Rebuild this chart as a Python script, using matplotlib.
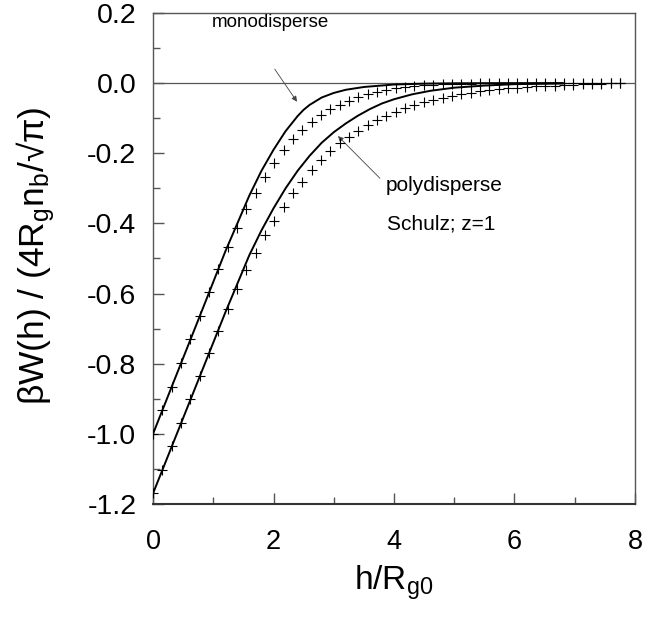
import matplotlib
matplotlib.use("Agg")
import matplotlib.pyplot as plt
from matplotlib.ticker import MultipleLocator

plt.rcParams['font.family'] = ['Liberation Sans', 'DejaVu Sans']
plt.rcParams['mathtext.fontset'] = 'custom'
plt.rcParams['mathtext.rm'] = 'Liberation Sans'
plt.rcParams['mathtext.default'] = 'regular'

# h positions of the "+" points (same for both sets)
h_pts = [0, 0.155, 0.31, 0.465, 0.62, 0.775, 0.93, 1.085, 1.24, 1.395,
         1.55, 1.705, 1.86, 2.015, 2.17, 2.325, 2.48, 2.635, 2.79, 2.945,
         3.1, 3.255, 3.41, 3.565, 3.72, 3.875, 4.03, 4.185, 4.34, 4.495,
         4.65, 4.805, 4.96, 5.115, 5.27, 5.425, 5.58, 5.735, 5.89, 6.045,
         6.2, 6.355, 6.51, 6.665, 6.82, 6.975, 7.13, 7.285, 7.44, 7.595, 7.75]

mono_pts = [-1.0, -0.933, -0.866, -0.798, -0.731, -0.664, -0.597, -0.531, -0.468, -0.412,
            -0.359, -0.312, -0.268, -0.228, -0.192, -0.160, -0.133, -0.110, -0.090, -0.075,
            -0.062, -0.050, -0.040, -0.031, -0.025, -0.020, -0.015, -0.012, -0.009, -0.0066,
            -0.0048, -0.0035, -0.0025, -0.0018, -0.0012, -0.0008, -0.0005, -0.0003, -0.0002, -0.0001,
            0, 0, 0, 0, 0, 0, 0, 0, 0, 0, 0]

poly_pts = [-1.169, -1.103, -1.035, -0.968, -0.902, -0.835, -0.770, -0.707, -0.644, -0.586,
            -0.533, -0.484, -0.433, -0.392, -0.353, -0.314, -0.281, -0.248, -0.219, -0.193,
            -0.170, -0.153, -0.136, -0.120, -0.105, -0.093, -0.081, -0.072, -0.062, -0.054,
            -0.047, -0.041, -0.036, -0.031, -0.027, -0.023, -0.020, -0.017, -0.015, -0.013,
            -0.011, -0.009, -0.008, -0.007, -0.005, -0.004, -0.003, -0.002, -0.002, -0.001, -0.001]

# solid curves
h_mono = [0, 0.4, 0.8, 1.2, 1.4, 1.6, 1.8, 2.0, 2.2, 2.4, 2.5, 2.6, 2.8, 3.0, 3.2, 3.5,
          4.0, 4.5, 5.0, 5.5, 6.0, 6.8]
mono = [-1.0, -0.827, -0.654, -0.48, -0.40, -0.32, -0.25, -0.19, -0.137, -0.094, -0.076,
        -0.062, -0.041, -0.028, -0.019, -0.011, -0.004, -0.0015, -0.0005, -0.0002, 0, 0]

h_poly = [0, 0.4, 0.8, 1.2, 1.6, 1.8, 2.0, 2.2, 2.4, 2.6, 2.8, 3.0, 3.2, 3.4, 3.6, 3.8,
          4.0, 4.3, 4.6, 5.0, 5.5, 6.0, 6.8]
poly = [-1.17, -0.998, -0.826, -0.654, -0.49, -0.42, -0.357, -0.30, -0.25, -0.207, -0.170,
        -0.140, -0.115, -0.093, -0.074, -0.058, -0.046, -0.032, -0.022, -0.013, -0.007,
        -0.003, -0.001]

fig = plt.figure(figsize=(6.57, 6.18), dpi=100)
ax = fig.add_axes([0.2329, 0.1845, 0.7336, 0.7945])

ax.axhline(0, color='#555555', lw=0.9, zorder=1)
ax.plot(h_mono, mono, color='black', lw=1.4, zorder=3)
ax.plot(h_poly, poly, color='black', lw=1.4, zorder=3)
ax.plot(h_pts, mono_pts, '+', color='black', ms=7, mew=0.8, zorder=4)
ax.plot(h_pts, poly_pts, '+', color='black', ms=7, mew=0.8, zorder=4)

ax.set_xlim(0, 8)
ax.set_ylim(-1.2, 0.2)
ax.xaxis.set_major_locator(MultipleLocator(2))
ax.xaxis.set_minor_locator(MultipleLocator(1))
ax.yaxis.set_major_locator(MultipleLocator(0.2))
ax.yaxis.set_minor_locator(MultipleLocator(0.1))
ax.yaxis.set_major_formatter(plt.FuncFormatter(lambda v, p: f"{v:.1f}"))

ax.tick_params(which='both', direction='in', top=False, right=False,
               color='#555555', width=1)
ax.tick_params(which='major', length=8)
ax.tick_params(which='minor', length=5)
ax.tick_params(axis='x', labelsize=19.5, pad=18)
ax.tick_params(axis='y', labelsize=20.5, pad=12)

for s in ax.spines.values():
    s.set_color('#555555')
    s.set_linewidth(1)
ax.spines['bottom'].set_color('#333333')
ax.spines['bottom'].set_linewidth(1.5)

ax.set_xlabel(r'h/R$_{g0}$', fontsize=24, labelpad=6)
ax.set_ylabel(r'βW(h) / (4R$_g$n$_b$/√π)', fontsize=25.5)
ax.yaxis.set_label_coords(-0.2, 0.505)

ax.text(0.98, 0.172, 'monodisperse', fontsize=13.5, ha='left', va='center')
ax.annotate('', xy=(2.39, -0.053), xytext=(2.02, 0.04),
            arrowprops=dict(arrowstyle='-|>', color='#444444', lw=0.6,
                            mutation_scale=8, shrinkA=0, shrinkB=0))
ax.annotate('polydisperse', xy=(3.07, -0.151), xytext=(3.86, -0.293),
            fontsize=15, ha='left', va='center',
            arrowprops=dict(arrowstyle='-|>', color='#444444', lw=0.6,
                            mutation_scale=8, shrinkA=3, shrinkB=0,
                            relpos=(0, 0.6)))
ax.text(3.88, -0.402, 'Schulz; z=1', fontsize=15, ha='left', va='center')

fig.savefig('out.png', dpi=100)
